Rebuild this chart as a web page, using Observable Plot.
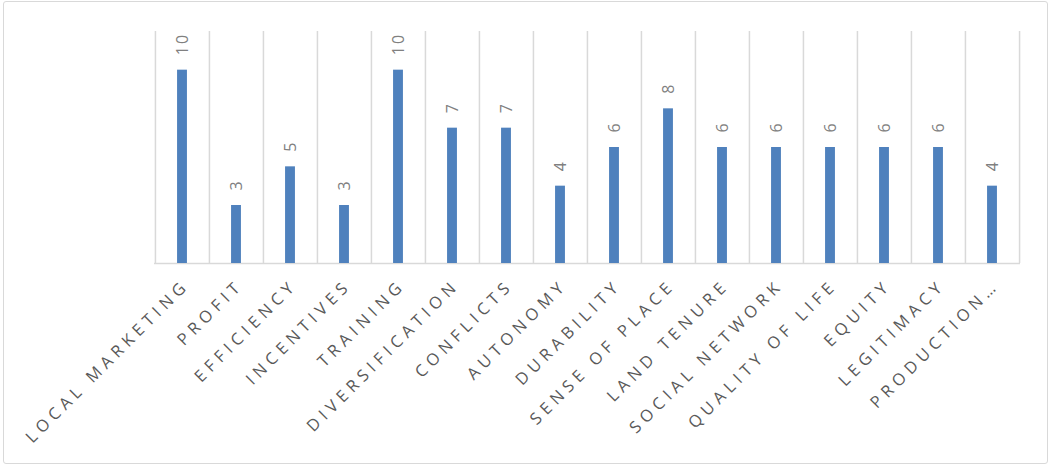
<!DOCTYPE html>
<html><head><meta charset="utf-8">
<script src="https://cdn.jsdelivr.net/npm/d3@7"></script>
<script src="https://cdn.jsdelivr.net/npm/@observablehq/plot@0.6"></script>
<style>
body{margin:0;background:#fff;}
#wrap{position:relative;width:1050px;height:466px;}
#frame{position:absolute;left:3px;top:1px;width:1043px;height:461px;border:1px solid #d9d9d9;border-radius:3px;pointer-events:none;}
g[aria-label="x-axis tick label"] text{letter-spacing:5px;}
g[aria-label="text"] text{letter-spacing:2px;}
</style></head><body><div id="wrap"><div id="frame"></div></div>
<script>
const categories = ["LOCAL MARKETING","PROFIT","EFFICIENCY","INCENTIVES","TRAINING","DIVERSIFICATION","CONFLICTS","AUTONOMY","DURABILITY","SENSE OF PLACE","LAND TENURE","SOCIAL NETWORK","QUALITY OF LIFE","EQUITY","LEGITIMACY","PRODUCTION…"];
const values = [10,3,5,3,10,7,7,4,6,8,6,6,6,6,6,4];
const yDomain = [0,12];

const data = categories.map((c,i)=>({category:c, value:values[i]}));
const W=1050,H=466, mL=154, mR=30, mT=31, mB=203;
const bw = (W-mL-mR)/categories.length;
const barW = 10;
const chart = Plot.plot({
  width:W, height:H, marginLeft:mL, marginRight:mR, marginTop:mT, marginBottom:mB,
  style:{fontFamily:"Open Sans", background:"transparent"},
  x:{domain:categories, padding:0, axis:null},
  y:{domain:yDomain, axis:null},
  marks:[
    Plot.ruleX(categories, {x:d=>d, dx:-bw/2, stroke:"#d9d9d9", strokeWidth:1.5}),
    Plot.ruleX([categories[categories.length-1]], {x:d=>d, dx:bw/2, stroke:"#d9d9d9", strokeWidth:1.5}),
    Plot.ruleY([0], {stroke:"#d9d9d9", strokeWidth:1.5}),
    Plot.barY(data, {x:"category", y:"value", fill:"#4f81bd", insetLeft:(bw-barW)/2, insetRight:(bw-barW)/2}),
    Plot.text(data, {x:"category", y:"value", text:d=>String(d.value), rotate:-90, textAnchor:"start", dy:-15, fontSize:16, fill:"#808080"}),
    Plot.axisX({tickRotate:-45, tickSize:0, tickPadding:19, dx:4, fontSize:16.5, fill:"#595959", label:null})
  ]
});
document.getElementById("wrap").prepend(chart);
</script></body></html>
